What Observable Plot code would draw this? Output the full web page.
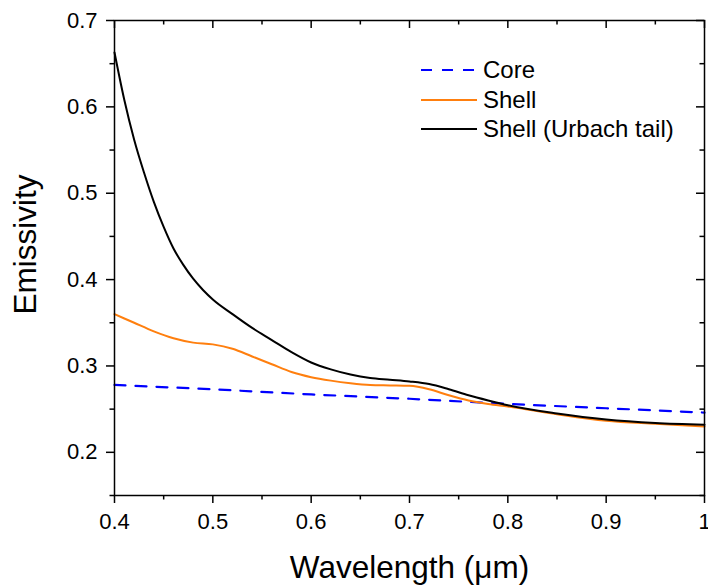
<!DOCTYPE html>
<html>
<head>
<meta charset="utf-8">
<script src="https://cdn.jsdelivr.net/npm/d3@7"></script>
<script src="https://cdn.jsdelivr.net/npm/@observablehq/plot@0.6"></script>
<style>
  html, body { margin: 0; padding: 0; background: white; }
  #wrap { position: relative; width: 708px; height: 587px; overflow: hidden; font-family: "Liberation Sans", Arial, sans-serif; }
  #legend { position: absolute; left: 421px; top: 55px; font-size: 24px; color: #000; }
  #legend .row { display: flex; align-items: center; height: 29.7px; }
  #legend svg { display: block; margin-right: 6px; }
</style>
</head>
<body>
<div id="wrap"></div>
<script>
// ---- data ----
const coreWl = [0.40, 0.50, 0.60, 0.70, 0.80, 0.90, 1.00];
const core   = [0.278, 0.273, 0.267, 0.262, 0.256, 0.251, 0.246];

const shellWl = [0.40,0.42,0.44,0.46,0.48,0.50,0.52,0.54,0.56,0.58,0.60,0.62,0.64,0.66,0.68,0.70,0.72,0.74,0.76,0.78,0.80,0.85,0.90,0.95,1.00];
const shell   = [0.360,0.350,0.340,0.332,0.327,0.325,0.320,0.311,0.302,0.293,0.287,0.283,0.280,0.278,0.2775,0.277,0.273,0.266,0.260,0.256,0.253,0.244,0.2365,0.233,0.230];

const urbachWl = [0.40,0.41,0.42,0.43,0.44,0.45,0.46,0.47,0.48,0.49,0.50,0.52,0.54,0.56,0.58,0.60,0.62,0.64,0.66,0.68,0.70,0.72,0.74,0.76,0.78,0.80,0.85,0.90,0.95,1.00];
const urbach   = [0.663,0.608,0.562,0.524,0.490,0.461,0.436,0.417,0.401,0.388,0.377,0.360,0.344,0.330,0.316,0.304,0.296,0.290,0.286,0.284,0.282,0.279,0.273,0.266,0.260,0.2545,0.245,0.238,0.234,0.232];

const xMajor = [0.4, 0.5, 0.6, 0.7, 0.8, 0.9, 1.0];
const xMinor = [0.45, 0.55, 0.65, 0.75, 0.85, 0.95];
const yMajor = [0.2, 0.3, 0.4, 0.5, 0.6, 0.7];
const yMinor = [0.15, 0.25, 0.35, 0.45, 0.55, 0.65];

const seriesNames = ["Core", "Shell", "Shell (Urbach tail)"];
const seriesColors = ["#0000ff", "#ff7f0e", "#000000"];

const toRows = (xs, ys) => xs.map((x, i) => ({x, y: ys[i]}));
const coreRows = toRows(coreWl, core);
const shellRows = toRows(shellWl, shell);
const urbachRows = toRows(urbachWl, urbach);

const fmt = d => (d === 1 ? "1" : d.toFixed(1));
const innerH = 587 - 20 - 92;
const innerW = 708 - 114 - 4;

const chart = Plot.plot({
  width: 708,
  height: 587,
  marginLeft: 114,
  marginRight: 4,
  marginTop: 20,
  marginBottom: 92,
  style: {fontFamily: "Liberation Sans, Arial, sans-serif", fontSize: "22px", background: "white", color: "black"},
  x: {domain: [0.4, 1.0]},
  y: {domain: [0.15, 0.7]},
  marks: [
    // outward ticks, bottom & left
    Plot.axisX(xMajor, {tickSize: 8, tickPadding: 10, tickFormat: fmt, strokeWidth: 1.5, label: null, fontSize: 22}),
    Plot.axisX(xMinor, {tickSize: 4.5, tickFormat: () => "", strokeWidth: 1.5, label: null}),
    Plot.axisY(yMajor, {tickSize: 8, tickPadding: 9, tickFormat: fmt, strokeWidth: 1.5, label: null, fontSize: 22}),
    Plot.axisY(yMinor, {tickSize: 4.5, tickFormat: () => "", strokeWidth: 1.5, label: null}),
    // inward ticks, top & right
    Plot.tickX(xMajor, {x: d => d, insetBottom: innerH - 8, strokeWidth: 1.5}),
    Plot.tickX(xMinor, {x: d => d, insetBottom: innerH - 4.5, strokeWidth: 1.5}),
    Plot.tickY(yMajor, {y: d => d, insetLeft: innerW - 8, strokeWidth: 1.5}),
    Plot.tickY(yMinor, {y: d => d, insetLeft: innerW - 4.5, strokeWidth: 1.5}),
    // data
    Plot.line(coreRows, {x: "x", y: "y", stroke: seriesColors[0], strokeWidth: 2.2, strokeDasharray: "11,10"}),
    Plot.line(shellRows, {x: "x", y: "y", stroke: seriesColors[1], strokeWidth: 2, curve: "monotone-x"}),
    Plot.line(urbachRows, {x: "x", y: "y", stroke: seriesColors[2], strokeWidth: 2, curve: "monotone-x"}),
    Plot.frame({stroke: "black", strokeWidth: 1.5}),
    // axis titles
    Plot.text(["Wavelength (\u03bcm)"], {frameAnchor: "bottom", dy: 72, fontSize: 31.5, lineAnchor: "middle", textAnchor: "middle", fill: "black"}),
    Plot.text(["Emissivity"], {frameAnchor: "left", dx: -89, dy: -13.5, rotate: -90, fontSize: 31.5, lineAnchor: "middle", textAnchor: "middle", fill: "black"})
  ]
});

const wrap = document.getElementById("wrap");
wrap.appendChild(chart);

// legend
const legend = document.createElement("div");
legend.id = "legend";
seriesNames.forEach((name, i) => {
  const row = document.createElement("div");
  row.className = "row";
  const sw = d3.create("svg").attr("width", 56).attr("height", 6);
  sw.append("line").attr("x1", 0).attr("x2", 56).attr("y1", 3).attr("y2", 3)
    .attr("stroke", seriesColors[i]).attr("stroke-width", i === 0 ? 2.2 : 2)
    .attr("stroke-dasharray", i === 0 ? "11,10" : null);
  row.appendChild(sw.node());
  const t = document.createElement("span");
  t.textContent = name;
  row.appendChild(t);
  legend.appendChild(row);
});
wrap.appendChild(legend);
</script>
</body>
</html>
